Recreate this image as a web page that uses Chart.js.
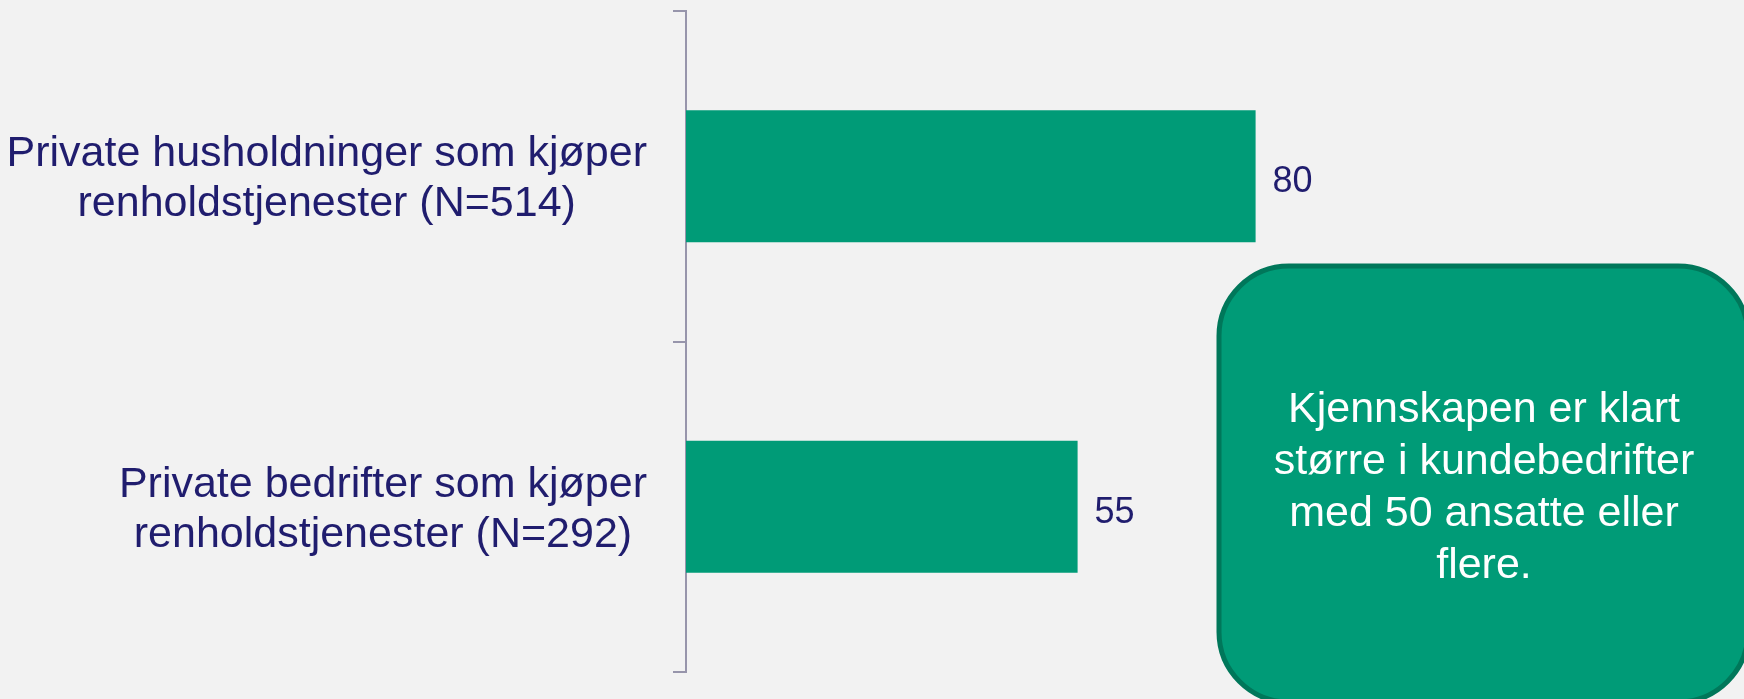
<!DOCTYPE html>
<html lang="no">
<head>
<meta charset="utf-8">
<title>Kjennskap</title>
<script src="https://cdn.jsdelivr.net/npm/chart.js@4"></script>
<style>
    html, body { margin: 0; padding: 0; background: #f2f2f2; }
    #wrap { position: relative; width: 1744px; height: 699px; }
</style>
</head>
<body>
<div id="wrap"><canvas id="chart"></canvas></div>
<script>
// Data
const categories = [
    ['Private husholdninger som kjøper', 'renholdstjenester (N=514)'],
    ['Private bedrifter som kjøper', 'renholdstjenester (N=292)']
];
const values = [80, 55];
const noteLines = ['Kjennskapen er klart', 'større i kundebedrifter', 'med 50 ansatte eller', 'flere.'];

const navy = '#201d6e';
const green = '#009b77';
const font = '"Liberation Sans", Arial, sans-serif';

// Category labels: each label right-aligned on its widest line, lines centred
const categoryLabels = {
    id: 'categoryLabels',
    afterDraw(chart) {
        const { ctx } = chart;
        const y = chart.scales.y;
        const right = y.left - 26;
        const lineH = 50;
        ctx.save();
        ctx.font = `43px ${font}`;
        ctx.fillStyle = navy;
        ctx.textAlign = 'center';
        ctx.textBaseline = 'alphabetic';
        categories.forEach((lines, i) => {
            const widest = Math.max(...lines.map(l => ctx.measureText(l).width));
            const cx = right - widest / 2;
            const cy = y.getPixelForValue(i);
            lines.forEach((l, j) => {
                ctx.fillText(l, cx, cy - 10 + j * lineH);
            });
        });
        ctx.restore();
    }
};

// Value labels at the end of each bar
const valueLabels = {
    id: 'valueLabels',
    afterDatasetsDraw(chart) {
        const { ctx } = chart;
        const meta = chart.getDatasetMeta(0);
        ctx.save();
        ctx.font = `36px ${font}`;
        ctx.fillStyle = navy;
        ctx.textAlign = 'left';
        ctx.textBaseline = 'alphabetic';
        meta.data.forEach((bar, i) => {
            ctx.fillText(String(values[i]), bar.x + 17, bar.y + 16);
        });
        ctx.restore();
    }
};

// Comment box on the right
const noteBox = {
    id: 'noteBox',
    afterDraw(chart) {
        const { ctx } = chart;
        const x = 1219, y = 266, w = 529, h = 436;
        ctx.save();
        ctx.beginPath();
        ctx.roundRect(x, y, w, h, 70);
        ctx.fillStyle = green;
        ctx.fill();
        ctx.lineWidth = 5;
        ctx.strokeStyle = '#00775a';
        ctx.stroke();
        ctx.font = `43px ${font}`;
        ctx.fillStyle = '#ffffff';
        ctx.textAlign = 'center';
        ctx.textBaseline = 'alphabetic';
        noteLines.forEach((l, j) => {
            ctx.fillText(l, 1484, 422 + j * 52);
        });
        ctx.restore();
    }
};

new Chart(document.getElementById('chart'), {
    type: 'bar',
    data: {
        labels: categories,
        datasets: [{
            data: values,
            backgroundColor: green,
            borderWidth: 0,
            barPercentage: 0.4,
            categoryPercentage: 1
        }]
    },
    options: {
        indexAxis: 'y',
        responsive: true,
        maintainAspectRatio: false,
        animation: false,
        layout: { padding: { left: 673, right: 346, top: 11, bottom: 27 } },
        plugins: {
            legend: { display: false },
            tooltip: { enabled: false }
        },
        scales: {
            x: { display: false, min: 0, max: 100 },
            y: {
                ticks: { display: false },
                grid: {
                    offset: true,
                    drawOnChartArea: false,
                    drawTicks: true,
                    tickLength: 13,
                    color: '#9795ab',
                    lineWidth: 2
                },
                border: { display: true, color: '#9795ab', width: 2 }
            }
        }
    },
    plugins: [categoryLabels, valueLabels, noteBox]
});
</script>
</body>
</html>
